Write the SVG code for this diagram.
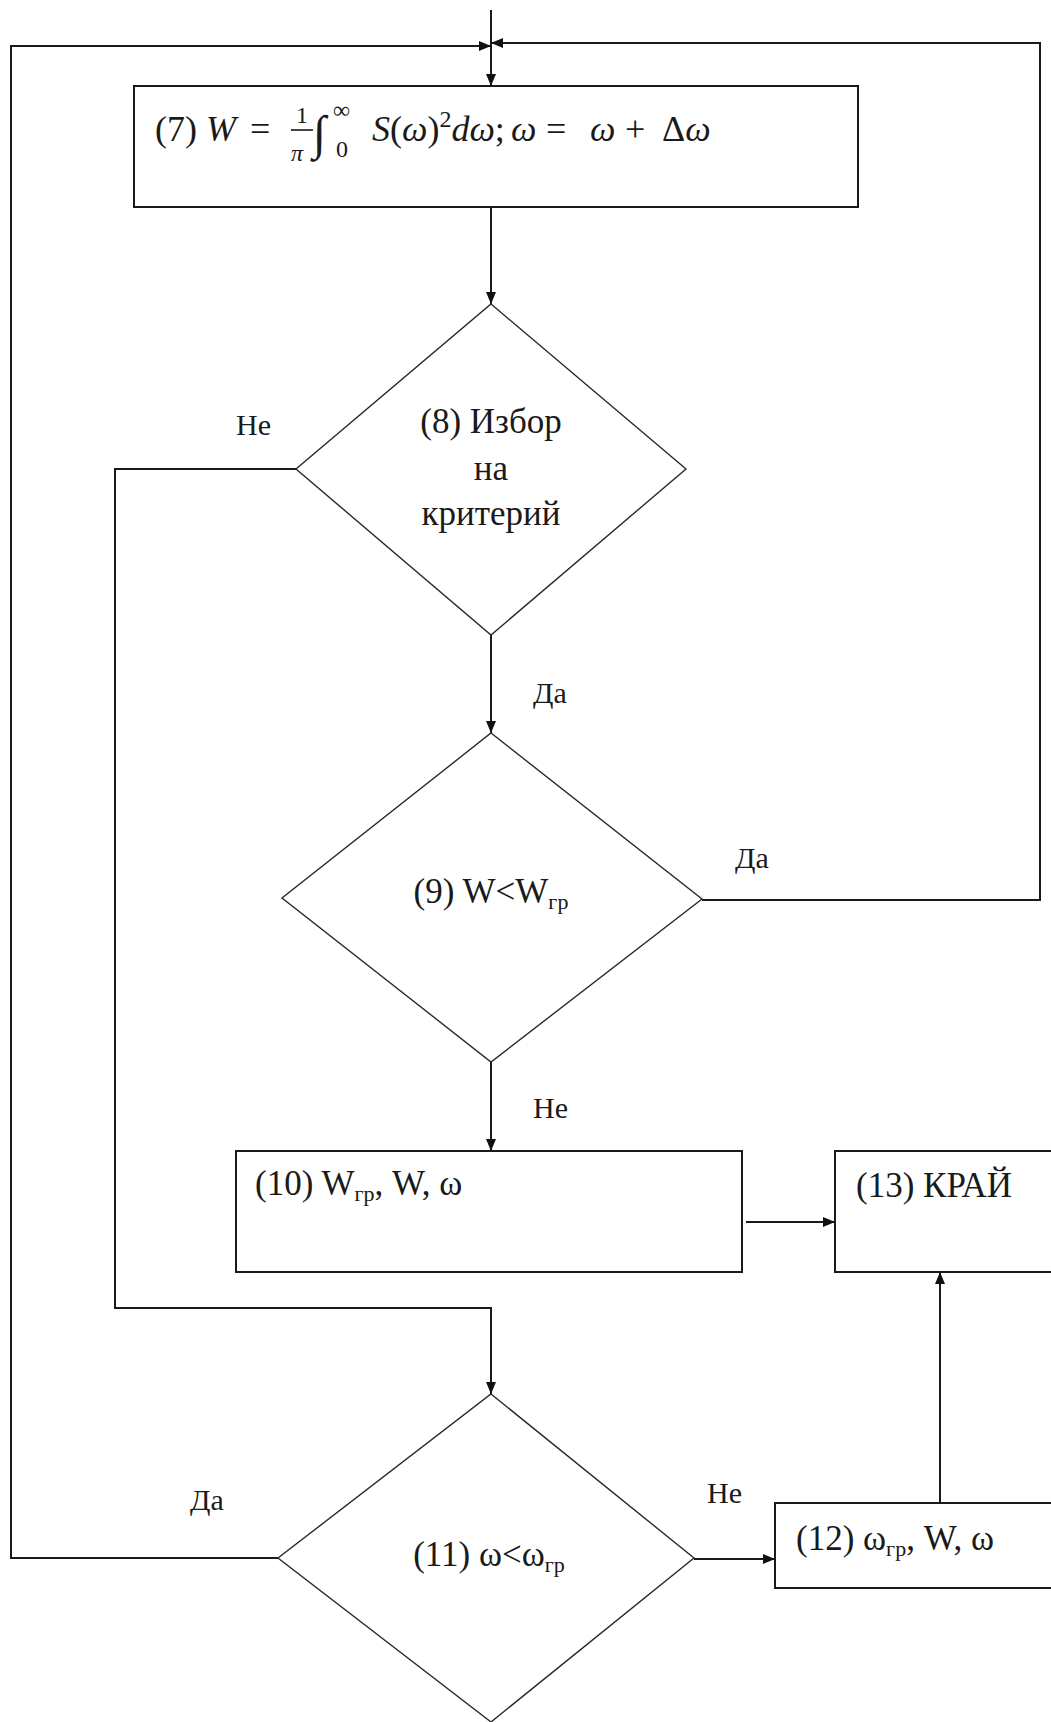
<svg xmlns="http://www.w3.org/2000/svg" width="1051" height="1722" viewBox="0 0 1051 1722">
<style>
  .box { fill: #ffffff; stroke: #1a1a1a; stroke-width: 2; }
  .dia { fill: #ffffff; stroke: #2a2a2a; stroke-width: 1.4; }
  .conn { fill: none; stroke: #1a1a1a; stroke-width: 2; }
  .t { font-family: "Liberation Serif", "Times New Roman", serif; font-size: 35px; fill: #1a1a1a; }
  .lbl { font-family: "Liberation Serif", "Times New Roman", serif; font-size: 30px; fill: #1a1a1a; }
  .m { font-family: "Liberation Serif", "DejaVu Serif", serif; font-size: 36px; fill: #1a1a1a; }
  .i { font-style: italic; }
  .s { font-size: 24px; }
  .sub { font-size: 22px; }
</style>
<defs>
  <marker id="arr" markerUnits="userSpaceOnUse" markerWidth="12" markerHeight="12" viewBox="0 0 12 12" refX="12" refY="6" orient="auto">
    <path d="M0,1 L12,6 L0,11 Z" fill="#111"/>
  </marker>
</defs>

<rect width="1051" height="1722" fill="#ffffff"/>

<g id="connectors">
  <line class="conn" x1="491" y1="10" x2="491" y2="86" marker-end="url(#arr)"/>
  <polyline class="conn" points="278,1558 11,1558 11,46 491,46" marker-end="url(#arr)"/>
  <polyline class="conn" points="702,900 1040,900 1040,43 491,43" marker-end="url(#arr)"/>
  <line class="conn" x1="491" y1="207" x2="491" y2="304" marker-end="url(#arr)"/>
  <polyline class="conn" points="296,469 115,469 115,1308 491,1308 491,1394" marker-end="url(#arr)"/>
  <line class="conn" x1="491" y1="635" x2="491" y2="733" marker-end="url(#arr)"/>
  <line class="conn" x1="491" y1="1062" x2="491" y2="1151" marker-end="url(#arr)"/>
  <line class="conn" x1="746" y1="1222" x2="835" y2="1222" marker-end="url(#arr)"/>
  <line class="conn" x1="694" y1="1559" x2="775" y2="1559" marker-end="url(#arr)"/>
  <line class="conn" x1="940" y1="1503" x2="940" y2="1272" marker-end="url(#arr)"/>

  <text class="lbl" x="236" y="435">Не</text>
  <text class="lbl" x="533" y="703">Да</text>
  <text class="lbl" x="735" y="868">Да</text>
  <text class="lbl" x="533" y="1118">Не</text>
  <text class="lbl" x="190" y="1510">Да</text>
  <text class="lbl" x="707" y="1503">Не</text>
</g>

<g id="node7">
  <rect class="box" x="134" y="86" width="724" height="121"/>
  <line x1="291" y1="130" x2="313" y2="130" stroke="#1a1a1a" stroke-width="1.6"/>
  <text class="m"><tspan x="155" y="141">(7)</tspan><tspan class="i" x="206" y="141">W</tspan><tspan x="250" y="141">=</tspan><tspan class="s" x="296" y="123">1</tspan><tspan class="s i" x="291" y="161">π</tspan><tspan x="313" y="149" style="font-size:48px">∫</tspan><tspan class="s" x="333" y="118">∞</tspan><tspan class="s" x="336" y="157">0</tspan><tspan class="i" x="372" y="141">S</tspan><tspan>(</tspan><tspan class="i">ω</tspan><tspan>)</tspan><tspan class="s" dy="-14">2</tspan><tspan class="i" dy="14">dω</tspan><tspan>;</tspan><tspan class="i" x="511" y="141">ω</tspan><tspan x="546" y="141">=</tspan><tspan class="i" x="590" y="141">ω</tspan><tspan x="625" y="141">+</tspan><tspan x="662" y="141">Δ</tspan><tspan class="i">ω</tspan></text>
</g>

<g id="node8">
  <polygon class="dia" points="491,304 686,469 491,635 296,469"/>
  <text class="t" text-anchor="middle" x="491" y="433">(8) Избор</text>
  <text class="t" text-anchor="middle" x="491" y="480">на</text>
  <text class="t" text-anchor="middle" x="491" y="525">критерий</text>
</g>

<g id="node9">
  <polygon class="dia" points="491,733 702,899 491,1062 282,898"/>
  <text class="t" text-anchor="middle" x="491" y="903">(9) W&lt;W<tspan class="sub" dy="6">гр</tspan></text>
</g>

<g id="node10">
  <rect class="box" x="236" y="1151" width="506" height="121"/>
  <text class="t" x="255" y="1195">(10) W<tspan class="sub" dy="6">гр</tspan><tspan dy="-6">, W, ω</tspan></text>
</g>

<g id="node13">
  <rect class="box" x="835" y="1151" width="230" height="121"/>
  <text class="t" x="856" y="1197">(13) КРАЙ</text>
</g>

<g id="node11">
  <polygon class="dia" points="491,1394 694,1558 491,1722 278,1558"/>
  <text class="t" text-anchor="middle" x="489" y="1566">(11) ω&lt;ω<tspan class="sub" dy="6">гр</tspan></text>
</g>

<g id="node12">
  <rect class="box" x="775" y="1503" width="290" height="85"/>
  <text class="t" x="796" y="1550">(12) ω<tspan class="sub" dy="6">гр</tspan><tspan dy="-6">, W, ω</tspan></text>
</g>
</svg>
